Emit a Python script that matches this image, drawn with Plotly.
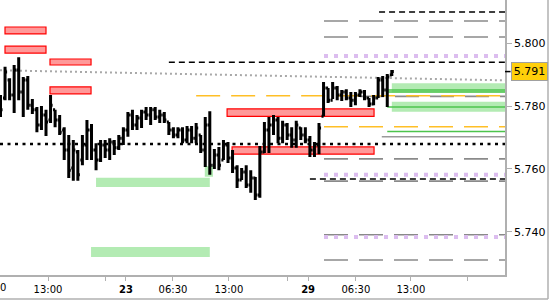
import plotly.graph_objects as go

# ---------------- data ----------------
bar_idx = list(range(87))
bar_open = [5.7819, 5.7826, 5.7883, 5.7835, 5.7915, 5.7845, 5.7883, 5.7803, 5.7788, 5.7740,
            5.7772, 5.7756, 5.7788, 5.7756, 5.7724, 5.7660, 5.7603, 5.7654, 5.7628, 5.7676,
            5.7724, 5.7660, 5.7628, 5.7676, 5.7660, 5.7686, 5.7667, 5.7698, 5.7724, 5.7772,
            5.7740, 5.7762, 5.7781, 5.7772, 5.7788, 5.7765, 5.7772, 5.7749, 5.7724, 5.7708,
            5.7724, 5.7692, 5.7724, 5.7698, 5.7708, 5.7660, 5.7740, 5.7612, 5.7644, 5.7628,
            5.7676, 5.7635, 5.7603, 5.7565, 5.7590, 5.7549, 5.7571, 5.7517, 5.7654, 5.7724,
            5.7740, 5.7756, 5.7698, 5.7740, 5.7708, 5.7692, 5.7730, 5.7708, 5.7692, 5.7660,
            5.7676, 5.7768, 5.7858, 5.7819, 5.7858, 5.7835, 5.7845, 5.7826, 5.7819, 5.7835,
            5.7845, 5.7826, 5.7807, 5.7826, 5.7883, 5.7851, 5.7899]
bar_high = [5.7835, 5.7925, 5.7889, 5.7931, 5.7956, 5.7893, 5.7896, 5.7823, 5.7797, 5.7800,
            5.7788, 5.7835, 5.7788, 5.7772, 5.7733, 5.7708, 5.7692, 5.7660, 5.7708, 5.7756,
            5.7743, 5.7682, 5.7692, 5.7692, 5.7698, 5.7692, 5.7708, 5.7733, 5.7781, 5.7788,
            5.7772, 5.7788, 5.7797, 5.7797, 5.7797, 5.7788, 5.7781, 5.7749, 5.7733, 5.7733,
            5.7733, 5.7737, 5.7737, 5.7746, 5.7708, 5.7765, 5.7784, 5.7663, 5.7670, 5.7692,
            5.7686, 5.7660, 5.7612, 5.7603, 5.7612, 5.7596, 5.7574, 5.7673, 5.7749, 5.7765,
            5.7772, 5.7765, 5.7753, 5.7746, 5.7733, 5.7753, 5.7733, 5.7733, 5.7705, 5.7686,
            5.7746, 5.7877, 5.7858, 5.7877, 5.7864, 5.7851, 5.7854, 5.7845, 5.7845, 5.7854,
            5.7851, 5.7826, 5.7835, 5.7893, 5.7896, 5.7902, 5.7915]
bar_low = [5.7765, 5.7819, 5.7819, 5.7778, 5.7819, 5.7765, 5.7788, 5.7775, 5.7717, 5.7724,
           5.7705, 5.7746, 5.7733, 5.7708, 5.7628, 5.7571, 5.7562, 5.7562, 5.7612, 5.7628,
           5.7628, 5.7596, 5.7622, 5.7635, 5.7628, 5.7644, 5.7660, 5.7676, 5.7702, 5.7724,
           5.7724, 5.7730, 5.7756, 5.7740, 5.7756, 5.7746, 5.7746, 5.7708, 5.7698, 5.7698,
           5.7682, 5.7682, 5.7682, 5.7682, 5.7651, 5.7606, 5.7581, 5.7600, 5.7596, 5.7628,
           5.7619, 5.7587, 5.7539, 5.7565, 5.7539, 5.7524, 5.7501, 5.7508, 5.7651, 5.7651,
           5.7708, 5.7682, 5.7682, 5.7692, 5.7667, 5.7667, 5.7692, 5.7682, 5.7638, 5.7638,
           5.7647, 5.7768, 5.7810, 5.7823, 5.7819, 5.7816, 5.7819, 5.7797, 5.7803, 5.7829,
           5.7819, 5.7797, 5.7803, 5.7826, 5.7829, 5.7797, 5.7896]
bar_close = [5.7788, 5.7909, 5.7835, 5.7915, 5.7845, 5.7883, 5.7803, 5.7788, 5.7740, 5.7772,
             5.7749, 5.7803, 5.7756, 5.7717, 5.7660, 5.7596, 5.7660, 5.7581, 5.7676, 5.7724,
             5.7660, 5.7628, 5.7676, 5.7660, 5.7686, 5.7667, 5.7698, 5.7724, 5.7772, 5.7740,
             5.7762, 5.7781, 5.7772, 5.7788, 5.7765, 5.7772, 5.7756, 5.7724, 5.7708, 5.7724,
             5.7692, 5.7724, 5.7698, 5.7730, 5.7660, 5.7740, 5.7612, 5.7644, 5.7612, 5.7676,
             5.7635, 5.7603, 5.7565, 5.7590, 5.7549, 5.7571, 5.7517, 5.7654, 5.7724, 5.7740,
             5.7756, 5.7698, 5.7740, 5.7708, 5.7692, 5.7740, 5.7708, 5.7692, 5.7660, 5.7676,
             5.7730, 5.7858, 5.7819, 5.7858, 5.7835, 5.7845, 5.7826, 5.7819, 5.7835, 5.7845,
             5.7826, 5.7807, 5.7826, 5.7883, 5.7851, 5.7893, 5.7910]

last_price = 5.791

x_tick_vals = [10.44, 22.97, 27.58, 37.9, 50.2, 62.97, 67.6, 78.1, 90.2, 102.7]
x_tick_text = ["13:00", "", "<b>23</b>", "06:30", "13:00", "", "<b>29</b>", "06:30", "13:00", ""]
y_tick_vals = [5.74, 5.76, 5.78, 5.80]
y_tick_text = ["5.740", "5.760", "5.780", "5.800"]

x_left, x_right = -0.11, 110.88
y_bottom, y_top = 5.7262, 5.8138

black_dash_levels = [5.8100, 5.7940, 5.7568]
black_dash_starts = [83.2, 37.0, 68.0]
gray_dash_levels = [5.8071, 5.8020, 5.7831, 5.7632, 5.7561, 5.7390, 5.7310]
gray_dash_starts = [71.1, 71.1, 79.0, 71.1, 71.1, 71.1, 71.1]
purple_dot_levels = [5.7960, 5.7581, 5.7383]
purple_dot_starts = [71.1, 71.1, 71.1]
orange_dash_levels = [5.7833, 5.7734]
orange_dash_starts = [43.0, 71.1]
green_line_levels = [5.7851, 5.7845, 5.7797, 5.7719]
green_line_starts = [85.0, 85.0, 85.0, 85.0]
gray_solid_levels = [5.7702]
gray_solid_starts = [83.8]
black_dot_levels = [5.7679]
black_dot_starts = [x_left]
trend_x = [x_left, x_right]
trend_y = [5.7914, 5.7882]

green_zones = [  # x0, x1, y0, y1
    (86.0, x_right, 5.7843, 5.7873),
    (86.0, x_right, 5.7782, 5.7814),
    (21.0, 46.0, 5.7542, 5.7572),
    (19.9, 46.0, 5.7319, 5.7351),
    (44.9, 46.7, 5.7575, 5.7609),
]
red_zones = [
    (0.99, 10.0, 5.8030, 5.8052),
    (0.99, 10.0, 5.7969, 5.7991),
    (10.88, 19.9, 5.7931, 5.7950),
    (10.88, 19.9, 5.7839, 5.7861),
    (49.8, 82.1, 5.7767, 5.7791),
    (50.9, 82.1, 5.7647, 5.7670),
]

# ---------------- figure ----------------
FONT = "DejaVu Sans"
fig = go.Figure()

fig.add_trace(go.Ohlc(
    x=bar_idx, open=bar_open, high=bar_high, low=bar_low, close=bar_close,
    increasing=dict(line=dict(color="black", width=3)),
    decreasing=dict(line=dict(color="black", width=3)),
    tickwidth=0.45, hoverinfo="skip", showlegend=False,
))

shapes = []
for x0, x1, y0, y1 in green_zones:
    shapes.append(dict(type="rect", xref="x", yref="y", x0=x0, x1=x1, y0=y0, y1=y1,
                       fillcolor="#b3ebb3", line=dict(width=0), layer="below"))
for x0, x1, y0, y1 in red_zones:
    shapes.append(dict(type="rect", xref="x", yref="y", x0=x0, x1=x1, y0=y0, y1=y1,
                       fillcolor="#ff9999", line=dict(color="#ff0000", width=1.2), layer="below"))


def hlines(levels, starts, color, width, dash):
    for lv, st in zip(levels, starts):
        shapes.append(dict(type="line", xref="x", yref="y", x0=st, x1=x_right, y0=lv, y1=lv,
                           line=dict(color=color, width=width, dash=dash), layer="below"))


hlines(gray_dash_levels, gray_dash_starts, "#8a8a8a", 1.6, "24px,11px")
hlines(purple_dot_levels, purple_dot_starts, "#dcbdef", 4, "4px,6px")
hlines(black_dash_levels, black_dash_starts, "black", 1.5, "6px,4px")
hlines(orange_dash_levels, orange_dash_starts, "#ffbf26", 1.5, "24px,11px")
hlines(green_line_levels, green_line_starts, "#4cc44c", 1.5, "solid")
hlines(gray_solid_levels, gray_solid_starts, "#9a9a9a", 1.5, "solid")
hlines(black_dot_levels, black_dot_starts, "black", 2.5, "3px,4.5px")
shapes.append(dict(type="line", xref="x", yref="y", x0=trend_x[0], x1=trend_x[1],
                   y0=trend_y[0], y1=trend_y[1],
                   line=dict(color="#a8a8a8", width=2, dash="2px,3px"), layer="below"))

# outer frame (right and bottom)
shapes.append(dict(type="line", xref="paper", yref="paper", x0=548 / 505, x1=548 / 505,
                   y0=1, y1=-24 / 275, line=dict(color="#b0b0b0", width=1.5)))
shapes.append(dict(type="line", xref="paper", yref="paper", x0=0, x1=548 / 505,
                   y0=-24 / 275, y1=-24 / 275, line=dict(color="#b0b0b0", width=1.5)))
# last price tick
shapes.append(dict(type="line", xref="paper", yref="y", x0=1.0, x1=1.011,
                   y0=last_price, y1=last_price, line=dict(color="black", width=1.5)))

annotations = [
    dict(text=f"{last_price:.3f}", xref="paper", yref="y", x=511 / 505, y=last_price,
         xanchor="left", yanchor="middle", showarrow=False,
         font=dict(family=FONT, size=11, color="black"),
         bgcolor="#ffcf0a", bordercolor="#a0a0a0", borderwidth=1, borderpad=2, width=31),
    dict(text="0", xref="paper", yref="paper", x=-0.004, y=-12 / 275,
         xanchor="left", yanchor="middle", showarrow=False,
         font=dict(family=FONT, size=10, color="black")),
]

fig.update_layout(
    width=550, height=300,
    margin=dict(l=0, r=45, t=0, b=25),
    paper_bgcolor="white", plot_bgcolor="white",
    showlegend=False, hovermode=False,
    font=dict(family=FONT, size=10, color="black"),
    shapes=shapes, annotations=annotations,
    xaxis=dict(range=[x_left, x_right], rangeslider=dict(visible=False),
               showgrid=False, zeroline=False, showline=True, linecolor="#b0b0b0", linewidth=1.5,
               tickmode="array", tickvals=x_tick_vals, ticktext=x_tick_text,
               ticks="outside", ticklen=4, tickcolor="#b0b0b0",
               tickfont=dict(family=FONT, size=10, color="black")),
    yaxis=dict(range=[y_bottom, y_top], side="right", showgrid=False, zeroline=False,
               showline=True, linecolor="#b0b0b0", linewidth=1.5,
               tickmode="array", tickvals=y_tick_vals, ticktext=y_tick_text,
               ticks="outside", ticklen=5, tickcolor="#b0b0b0",
               tickfont=dict(family=FONT, size=11, color="black")),
)

fig.write_html("out.html")
